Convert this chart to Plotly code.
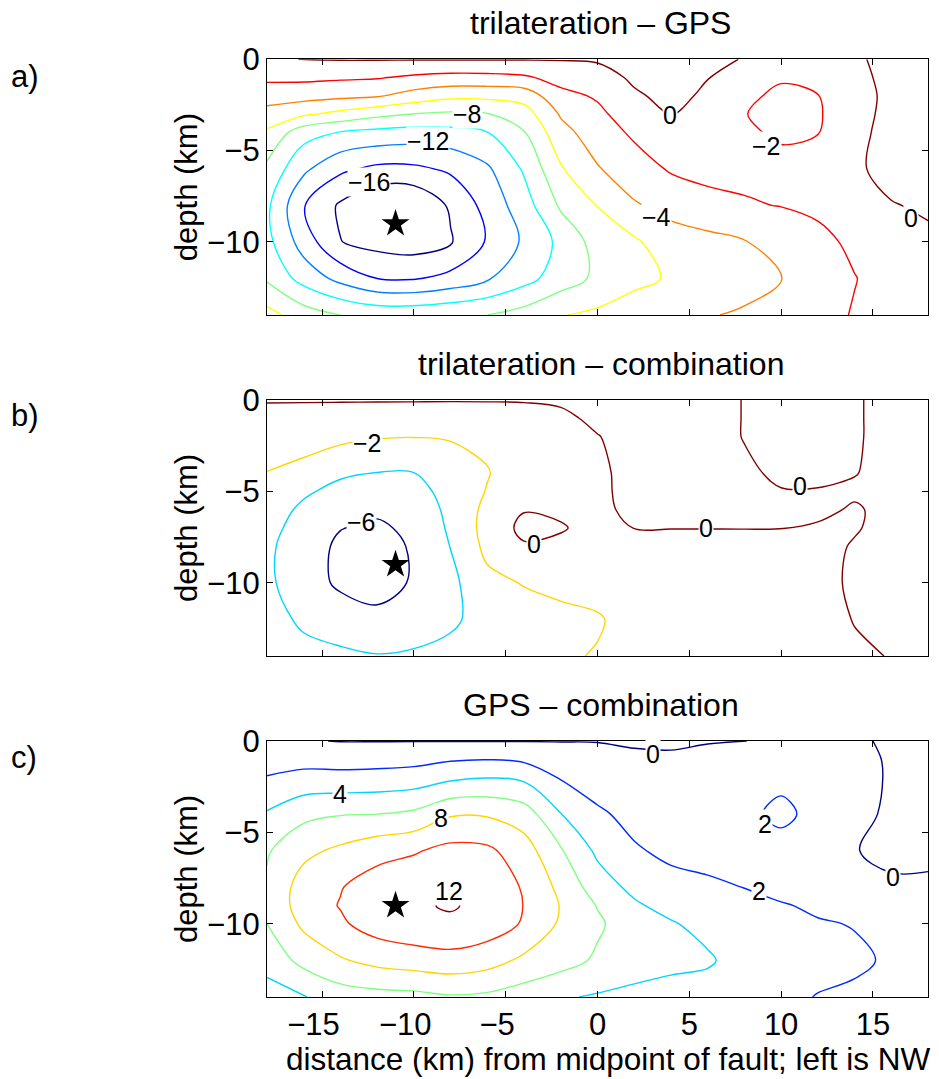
import numpy as np
import plotly.graph_objects as go

W, H = 939, 1079

# ---------------- data ----------------
x_km = list(range(-18, 19, 2))          # grid columns (km from fault midpoint)
ya = [0, -1, -2, -3, -4, -6, -8, -10, -12, -14]
yb = [0, -1, -2, -4, -5, -6, -7, -8, -10, -12, -14]
yc = [0, -1, -2, -4, -6, -8, -9, -10, -12, -14]

# a) trilateration - GPS : one list per x column, values at depths ya
za_cols = [
    [-0.3, -1.6, -3.12, -4.74, -6.32, -8.45, -9.6, -9.4, -8.3, -5.3],
    [0.05, -1.6, -3.25, -5.7, -9.2, -11.6, -13.9, -12.9, -10.75, -7.0],
    [0.1, -1.75, -3.55, -6.55, -10.1, -13.6, -16.3, -15.95, -12.6, -8.0],
    [0.1, -1.87, -3.8, -7.5, -10.55, -14.45, -17.9, -16.7, -14.0, -8.6],
    [0.1, -2.34, -4.8, -8.05, -10.8, -14.4, -17.9, -17.0, -14.15, -8.6],
    [0.1, -2.65, -5.5, -8.35, -10.65, -13.67, -15.7, -16.2, -13.4, -8.3],
    [0.1, -2.6, -5.5, -8.1, -10.03, -12.3, -13.3, -13.8, -12.2, -8.0],
    [0.1, -2.3, -5.2, -6.9, -8.1, -9.75, -10.9, -11.7, -10.7, -7.2],
    [0.1, -1.3, -2.57, -3.8, -4.65, -6.2, -7.7, -9.5, -9.0, -6.1],
    [0.2, -0.78, -1.78, -2.43, -2.98, -4.15, -5.95, -7.2, -7.6, -5.6],
    [0.8, 0.3, -0.25, -0.96, -1.67, -2.9, -4.2, -6.3, -6.5, -5.0],
    [1.0, 0.75, 0.5, 0.05, -0.45, -1.8, -3.37, -4.85, -5.8, -4.6],
    [0.5, 0.05, -0.3, -0.6, -0.95, -1.45, -2.6, -4.6, -4.9, -4.1],
    [-0.1, -0.9, -1.7, -1.95, -1.8, -1.6, -2.15, -4.1, -4.6, -3.8],
    [-0.3, -1.85, -2.3, -2.5, -2.2, -1.6, -1.95, -3.26, -4.1, -3.0],
    [-0.3, -1.5, -2.05, -2.2, -2.05, -1.5, -1.7, -2.4, -2.9, -2.5],
    [-0.2, -0.5, -0.8, -0.7, -0.5, -0.3, -0.9, -1.7, -2.05, -1.9],
    [0.4, 0.5, 0.5, 0.55, 0.6, 0.6, -0.1, -0.9, -1.4, -1.5],
    [0.5, 0.6, 0.7, 0.75, 0.8, 0.7, 0.25, -0.35, -0.8, -1.0],
]

# b) trilateration - combination : values at depths yb
zb_cols = [
    [0.1, -0.5, -1.0, -2.05, -2.5, -3.0, -3.3, -3.6, -3.6, -3.1, -2.6],
    [0.1, -0.6, -1.2, -2.6, -3.7, -4.4, -4.9, -5.2, -5.2, -4.4, -3.3],
    [0.1, -0.7, -1.5, -3.7, -4.6, -5.4, -5.95, -6.3, -6.3, -5.1, -3.6],
    [0.1, -0.8, -1.85, -4.05, -4.9, -5.7, -6.3, -6.7, -6.6, -5.6, -3.9],
    [0.1, -0.9, -1.95, -4.03, -4.7, -5.3, -5.6, -5.8, -5.85, -5.2, -3.7],
    [0.1, -1.0, -1.85, -3.0, -3.3, -3.5, -3.7, -3.95, -4.5, -4.4, -3.3],
    [0.1, -0.9, -1.6, -2.1, -1.9, -1.5, -1.3, -1.5, -2.5, -3.1, -2.6],
    [0.1, -0.6, -1.0, -0.9, -0.5, -0.1, 0.5, -0.2, -1.9, -2.8, -2.5],
    [0.2, -0.3, -0.6, -0.8, -0.5, -0.3, 0.15, -0.4, -1.6, -2.4, -2.2],
    [0.5, 0.3, -0.05, -0.3, -0.3, -0.35, -0.6, -0.9, -1.4, -2.15, -1.9],
    [0.6, 0.6, 0.5, 0.5, 0.45, 0.35, 0.02, -0.4, -1.0, -1.4, -1.5],
    [0.6, 0.6, 0.6, 0.5, 0.5, 0.4, 0.02, -0.35, -0.8, -1.1, -1.2],
    [0.5, 0.5, 0.5, 0.5, 0.45, 0.35, 0.02, -0.35, -0.7, -1.0, -1.1],
    [-0.05, -0.05, -0.05, 0.2, 0.3, 0.35, 0.02, -0.3, -0.6, -0.9, -1.0],
    [-0.3, -0.3, -0.3, -0.2, 0.05, 0.3, 0.02, -0.3, -0.6, -0.8, -0.9],
    [-0.3, -0.3, -0.3, -0.2, 0.05, 0.3, -0.15, -0.4, -0.5, -0.5, -0.6],
    [-0.1, -0.1, -0.1, -0.05, 0.2, -0.15, -0.1, 0.1, 0.25, 0.05, -0.2],
    [0.3, 0.3, 0.3, 0.4, 0.4, 0.4, 0.4, 0.5, 0.5, 0.4, 0.05],
    [0.3, 0.3, 0.3, 0.4, 0.4, 0.4, 0.4, 0.5, 0.5, 0.4, 0.2],
]

# c) GPS - combination : values at depths yc
zc_cols = [
    [0.3, 1.1, 2.1, 4.2, 5.8, 6.3, 6.3, 6.0, 4.7, 3.2],
    [0.1, 1.3, 2.6, 5.5, 7.5, 8.9, 9.0, 8.4, 6.6, 3.9],
    [-0.05, 1.2, 2.6, 5.9, 8.4, 9.9, 10.1, 9.7, 7.8, 5.0],
    [-0.05, 1.25, 2.7, 6.0, 9.3, 11.0, 11.4, 10.9, 8.6, 5.3],
    [-0.05, 1.4, 2.9, 6.4, 9.8, 11.5, 11.7, 11.4, 9.0, 5.4],
    [-0.05, 1.8, 3.6, 7.8, 10.6, 11.9, 12.2, 11.6, 9.3, 5.8],
    [-0.05, 1.95, 3.95, 7.8, 10.4, 11.4, 11.4, 11.1, 8.8, 5.6],
    [-0.05, 1.65, 3.6, 7.0, 8.9, 9.8, 9.95, 9.8, 7.6, 5.0],
    [-0.05, 0.9, 1.85, 4.05, 6.2, 7.5, 7.9, 7.7, 6.8, 4.2],
    [-0.05, 0.55, 1.1, 2.3, 3.6, 5.0, 5.9, 6.3, 5.7, 3.8],
    [-0.2, 0.3, 0.75, 1.45, 2.2, 3.5, 4.3, 4.9, 4.9, 3.5],
    [-0.3, 0.3, 0.6, 1.1, 1.6, 2.6, 3.3, 4.2, 4.6, 3.1],
    [-0.1, 0.5, 0.8, 1.1, 1.5, 2.25, 2.7, 3.3, 4.3, 2.9],
    [-0.02, 0.8, 1.3, 1.7, 1.6, 1.98, 2.35, 2.6, 3.0, 2.4],
    [0.3, 1.0, 1.7, 2.3, 1.5, 1.6, 2.1, 2.4, 2.7, 2.3],
    [0.3, 0.9, 1.3, 1.6, 1.3, 1.35, 1.8, 2.1, 2.4, 1.95],
    [0.2, 0.4, 0.5, 0.5, 0.1, 0.8, 1.2, 1.95, 2.2, 1.8],
    [-0.2, -0.15, -0.15, -0.3, -0.6, 0.4, 0.8, 1.2, 1.85, 1.5],
    [-0.3, -0.3, -0.3, -0.4, -0.4, 0.3, 0.6, 0.9, 1.3, 1.2],
]

levels_a = [-16, -14, -12, -10, -8, -6, -4, -2, 0]
levels_b = [-6, -4, -2, 0]
levels_c = [0, 2, 4, 6, 8, 10, 12]

# contour labels: (text, x, depth)
labels_a = [("−8", -7.07, -2.99), ("−12", -9.25, -4.5), ("−16", -12.46, -6.74),
            ("−4", 3.21, -8.63), ("0", 3.96, -3.06), ("−2", 9.22, -4.72),
            ("0", 17.1, -8.69)]
labels_b = [("−2", -12.52, -2.37), ("−6", -12.88, -6.65), ("0", -3.48, -7.87),
            ("0", 5.9, -7.02), ("0", 11.02, -4.72)]
labels_c = [("4", -14.0, -2.9), ("8", -8.53, -4.23), ("12", -8.1, -8.19),
            ("0", 3.0, -0.71), ("2", 9.13, -4.54), ("2", 8.82, -8.21),
            ("0", 16.1, -7.46)]

star_x = [-11]
star_y = [-9]

titles = ["trilateration – GPS", "trilateration – combination", "GPS – combination"]
tags = ["a)", "b)", "c)"]
x_ticks = [-15, -10, -5, 0, 5, 10, 15]
y_ticks = [0, -5, -10]

# ---------------- layout constants (pixels) ----------------
FONT = "Liberation Sans, Arial, Helvetica, sans-serif"
PLOT_L, PLOT_R = 267, 928
PANEL_TB = [(59.3, 315), (400, 656), (741, 997)]
TITLE_Y = [23.5, 364.5, 704.5]
TAG_Y = [76, 415.5, 757]


def jet(t):
    r = min(max(min(4 * t - 1.5, -4 * t + 4.5), 0), 1)
    g = min(max(min(4 * t - 0.5, -4 * t + 3.5), 0), 1)
    b = min(max(min(4 * t + 0.5, -4 * t + 2.5), 0), 1)
    return "rgb(%d,%d,%d)" % (round(r * 255), round(g * 255), round(b * 255))


def px_x(px):
    return px / W


def px_y(py):
    return 1 - py / H


fig = go.Figure()
annotations = []

panels = [
    (ya, za_cols, levels_a, labels_a),
    (yb, zb_cols, levels_b, labels_b),
    (yc, zc_cols, levels_c, labels_c),
]

for i, (yv, cols, levels, labs) in enumerate(panels):
    n = "" if i == 0 else str(i + 1)
    xa, yaid = "x" + n, "y" + n
    z = np.array(cols, dtype=float).T          # rows = depth, cols = x
    y_asc = list(yv[::-1])
    z_asc = z[::-1, :]
    for k, lev in enumerate(levels):
        col = jet(k / (len(levels) - 1))
        fig.add_trace(go.Contour(
            x=x_km, y=y_asc, z=z_asc,
            contours=dict(start=lev, end=lev, size=1, coloring="none",
                          showlabels=False),
            line=dict(color=col, width=1.4, smoothing=1.0),
            showscale=False, hoverinfo="skip",
            xaxis=xa, yaxis=yaid, name=str(lev), showlegend=False,
        ))
    fig.add_trace(go.Scatter(
        x=star_x, y=star_y, mode="markers",
        marker=dict(symbol="star", size=21, color="black"),
        xaxis=xa, yaxis=yaid, showlegend=False, hoverinfo="skip",
    ))
    for txt, lx, ly in labs:
        annotations.append(dict(
            x=lx, y=ly, xref=xa, yref=yaid, text=txt, showarrow=False,
            font=dict(family=FONT, size=25, color="black"),
            bgcolor="white", borderpad=0, xanchor="center", yanchor="middle",
        ))

    top, bot = PANEL_TB[i]
    axis_common = dict(
        showline=True, linecolor="black", linewidth=1.3, mirror="ticks",
        ticks="inside", ticklen=6, tickwidth=1.2, tickcolor="black",
        showgrid=False, zeroline=False, automargin=False,
        tickfont=dict(family=FONT, size=31, color="black"),
    )
    fig.update_layout(**{
        ("xaxis" + n): dict(
            axis_common, domain=[PLOT_L / W, PLOT_R / W], range=[-18, 18],
            anchor=yaid, tickmode="array", tickvals=x_ticks,
            ticktext=[("−%d\u2007" % -v) if v < 0 else str(v) for v in x_ticks],
            showticklabels=(i == 2),
        ),
        ("yaxis" + n): dict(
            axis_common, domain=[px_y(bot), px_y(top)], range=[-14, 0],
            anchor=xa, tickmode="array", tickvals=y_ticks,
        ),
    })

    annotations.append(dict(
        x=px_x(600.5), y=px_y(TITLE_Y[i]), xref="paper", yref="paper",
        text=titles[i], showarrow=False, xanchor="center", yanchor="middle",
        font=dict(family=FONT, size=32, color="black"), borderpad=0,
    ))
    annotations.append(dict(
        x=px_x(10), y=px_y(TAG_Y[i]), xref="paper", yref="paper",
        text=tags[i], showarrow=False, xanchor="left", yanchor="middle",
        font=dict(family=FONT, size=31, color="black"), borderpad=0,
    ))
    annotations.append(dict(
        x=px_x(186), y=px_y((top + bot) / 2), xref="paper", yref="paper",
        text="depth (km)", showarrow=False, textangle=-90,
        xanchor="center", yanchor="middle",
        font=dict(family=FONT, size=31, color="black"), borderpad=0,
    ))

annotations.append(dict(
    x=px_x(608), y=px_y(1058.5), xref="paper", yref="paper",
    text="distance (km) from midpoint of fault; left is NW", showarrow=False,
    xanchor="center", yanchor="middle", borderpad=0,
    font=dict(family=FONT, size=31.5, color="black"),
))

fig.update_layout(
    width=W, height=H,
    margin=dict(l=0, r=0, t=0, b=0, pad=0, autoexpand=False),
    paper_bgcolor="white", plot_bgcolor="white",
    annotations=annotations, showlegend=False,
    font=dict(family=FONT, color="black"),
)

fig.write_html("out.html")
